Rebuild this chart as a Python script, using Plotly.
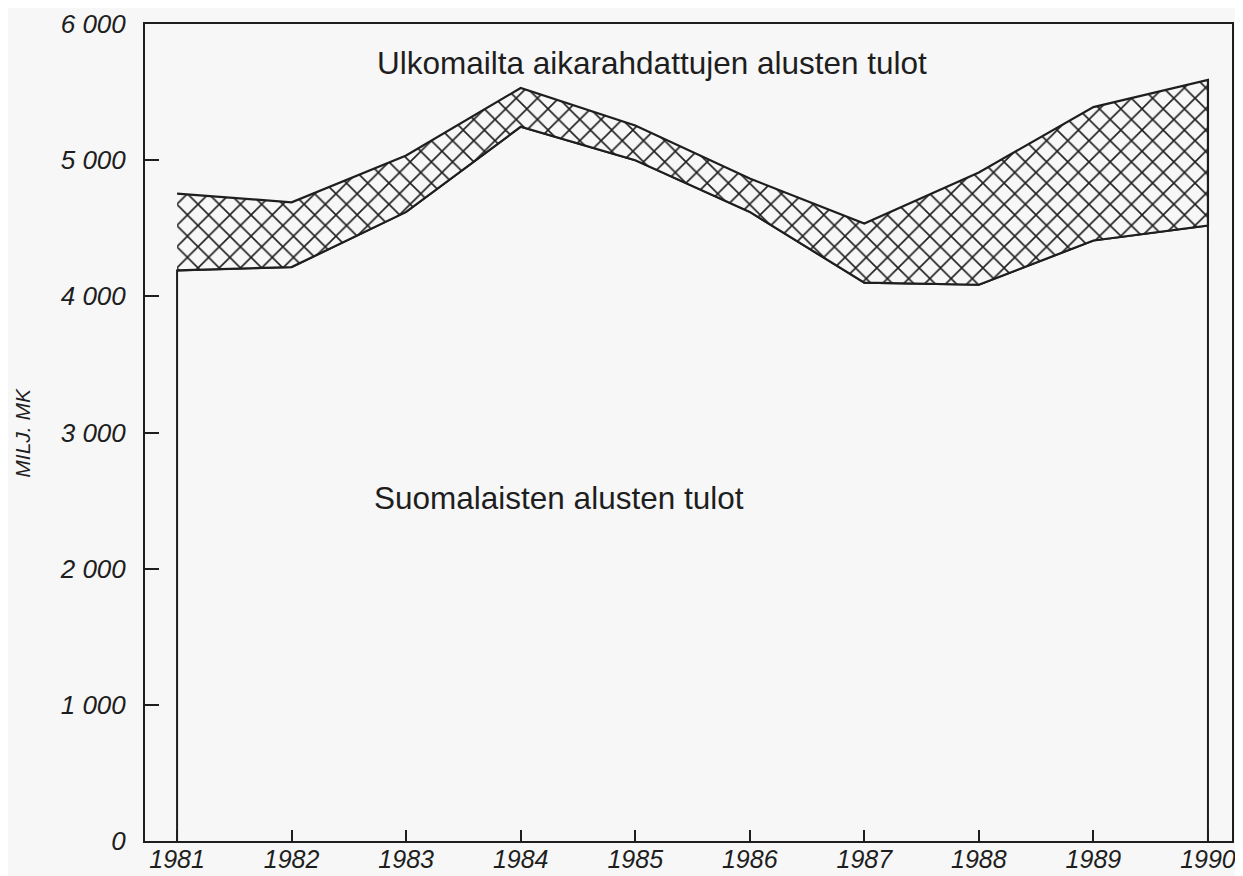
import plotly.graph_objects as go

years = [1981, 1982, 1983, 1984, 1985, 1986, 1987, 1988, 1989, 1990]
suomalaiset = [4190, 4215, 4620, 5245, 5000, 4620, 4100, 4085, 4410, 4520]
yhteensa = [4755, 4690, 5035, 5530, 5255, 4865, 4535, 4910, 5390, 5590]

ytick_vals = [0, 1000, 2000, 3000, 4000, 5000, 6000]
ytick_text = ["0", "1 000", "2 000", "3 000", "4 000", "5 000", "6 000"]

label_upper = "Ulkomailta aikarahdattujen alusten tulot"
label_lower = "Suomalaisten alusten tulot"
y_title = "MILJ. MK"

FONT = "Liberation Sans, Arial, sans-serif"
BG = "#f7f7f7"
INK = "#1e1e1e"

fig = go.Figure()

# Lower area outline (Finnish vessels)
fig.add_trace(go.Scatter(
    x=[years[0]] + years + [years[-1]],
    y=[0] + suomalaiset + [0],
    mode="lines",
    line=dict(color=INK, width=2),
    fill="toself",
    fillcolor=BG,
    hoverinfo="skip",
    showlegend=False,
))

# Hatched band (foreign time-chartered vessels)
fig.add_trace(go.Scatter(
    x=years + years[::-1],
    y=yhteensa + suomalaiset[::-1],
    mode="lines",
    line=dict(color=INK, width=2.2),
    fill="toself",
    fillcolor=BG,
    fillpattern=dict(shape="x", size=15, solidity=0.2,
                     fgcolor=INK, bgcolor=BG, fillmode="replace"),
    hoverinfo="skip",
    showlegend=False,
))

fig.add_annotation(x=0.466, y=5710, xref="paper", yref="y", xanchor="center",
                   text=label_upper, showarrow=False,
                   font=dict(family=FONT, size=31.5, color=INK))
fig.add_annotation(x=0.381, y=2520, xref="paper", yref="y", xanchor="center",
                   text=label_lower, showarrow=False,
                   font=dict(family=FONT, size=31.5, color=INK))
fig.add_annotation(x=-0.113, y=0.5, xref="paper", yref="paper", xanchor="center",
                   text=y_title, showarrow=False, textangle=-90,
                   font=dict(family=FONT, size=21, color=INK, style="italic"))

fig.update_layout(
    width=1235, height=868,
    paper_bgcolor=BG, plot_bgcolor=BG,
    margin=dict(l=137, r=11, t=16, b=35, autoexpand=False),
    font=dict(family=FONT, color=INK),
    xaxis=dict(
        range=[1980.72, 1990.21], automargin=False,
        tickvals=years, ticktext=[str(y) for y in years],
        ticks="inside", ticklen=11, tickwidth=1.8, tickcolor=INK,
        showline=True, linecolor=INK, linewidth=2, mirror=True,
        showgrid=False, zeroline=False, ticklabelstandoff=-5,
        tickfont=dict(family=FONT, size=25, color=INK, style="italic"),
    ),
    yaxis=dict(
        range=[0, 6000], automargin=False,
        tickvals=ytick_vals, ticktext=ytick_text,
        ticks="inside", ticklen=14, tickwidth=1.8, tickcolor=INK,
        showline=True, linecolor=INK, linewidth=2, mirror=True,
        showgrid=False, zeroline=False, ticklabelstandoff=12,
        tickfont=dict(family=FONT, size=26, color=INK, style="italic"),
    ),
)

fig.write_html("out.html")
